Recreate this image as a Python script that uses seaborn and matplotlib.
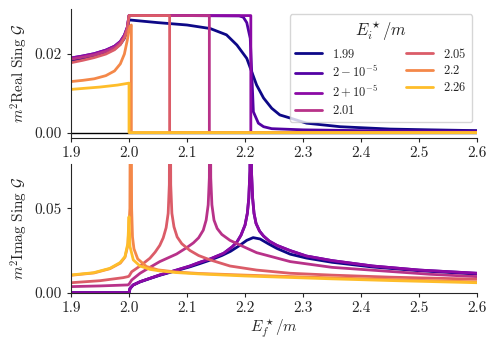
import numpy as np
import matplotlib
matplotlib.use("Agg")
import matplotlib.pyplot as plt
import seaborn as sns

# incoming energies (legend) and their labels
labels = ['$1.99$', r'$2-10^{-5}$', r'$2+10^{-5}$', '$2.01$', '$2.05$', '$2.2$', '$2.26$']

# --- Real part of Sing G ---
re_x_199 = [1.9, 1.92, 1.94, 1.96, 1.975, 1.985, 1.992, 1.997, 2.0, 2.05, 2.1, 2.14, 2.168, 2.186,
            2.203, 2.2115, 2.22, 2.232, 2.246, 2.26, 2.278, 2.306, 2.364, 2.45, 2.52, 2.6]
re_y_199 = [0.0183, 0.0188, 0.0194, 0.0203, 0.0213, 0.0225, 0.0240, 0.0260, 0.0287, 0.0280, 0.0274,
            0.0265, 0.0249, 0.0223, 0.0189, 0.0155, 0.0121, 0.0088, 0.0062, 0.0045, 0.0037, 0.0024,
            0.0015, 0.0009, 0.0007, 0.0005]

re_x_2m = [1.9, 1.92, 1.94, 1.96, 1.975, 1.985, 1.992, 1.997, 2.0, 2.1, 2.19, 2.197, 2.203, 2.209,
           2.2115, 2.2144, 2.223, 2.232, 2.246, 2.3, 2.4, 2.6]
re_y_2m = [0.0190, 0.0195, 0.0201, 0.0210, 0.0220, 0.0232, 0.0248, 0.0268, 0.0298, 0.0298, 0.0297,
           0.0294, 0.0280, 0.0240, 0.0155, 0.0053, 0.0024, 0.0015, 0.0010, 0.0007, 0.0005, 0.0004]

re_x_2p = [1.9, 1.92, 1.94, 1.96, 1.975, 1.985, 1.992, 1.997, 2.0, 2.21, 2.21, 2.6]
re_y_2p = [0.0190, 0.0195, 0.0201, 0.0210, 0.0220, 0.0232, 0.0248, 0.0268, 0.0298, 0.0298, 0.0, 0.0]

re_x_201 = [1.9, 1.92, 1.94, 1.96, 1.975, 1.985, 1.992, 1.997, 2.0, 2.1385, 2.1385, 2.6]
re_y_201 = [0.0187, 0.0192, 0.0198, 0.0207, 0.0217, 0.0229, 0.0245, 0.0266, 0.0298, 0.0298, 0.0, 0.0]

re_x_205 = [1.9, 1.92, 1.94, 1.96, 1.975, 1.985, 1.992, 1.997, 2.0, 2.07, 2.07, 2.6]
re_y_205 = [0.0178, 0.0184, 0.0191, 0.0200, 0.0211, 0.0224, 0.0241, 0.0262, 0.0298, 0.0298, 0.0, 0.0]

re_x_22 = [1.9, 1.92, 1.94, 1.96, 1.975, 1.985, 1.992, 1.997, 2.0, 2.002, 2.004, 2.004, 2.6]
re_y_22 = [0.0130, 0.0133, 0.0137, 0.0145, 0.0157, 0.0175, 0.0200, 0.0235, 0.0262, 0.0271, 0.0274, 0.0, 0.0]

re_x_226 = [1.9, 1.95, 1.98, 2.0, 2.0, 2.6]
re_y_226 = [0.0110, 0.0116, 0.0121, 0.0126, 0.0, 0.0]

# --- Imaginary part of Sing G ---
im_x_199 = [1.9, 2.0, 2.002, 2.007, 2.019, 2.036, 2.053, 2.082, 2.105, 2.122, 2.14, 2.16, 2.175, 2.19,
            2.203, 2.214, 2.226, 2.24, 2.255, 2.278, 2.306, 2.35, 2.42, 2.5, 2.6]
im_y_199 = [0.0, 0.0, 0.0025, 0.0045, 0.0064, 0.0084, 0.0103, 0.0131, 0.0153, 0.0172, 0.0193, 0.0220,
            0.0245, 0.0278, 0.0310, 0.0326, 0.0318, 0.0290, 0.0262, 0.0228, 0.0205, 0.0180, 0.0152,
            0.0130, 0.0110]

im_x_2pm = [1.9, 2.0, 2.0017, 2.0074, 2.019, 2.036, 2.053, 2.082, 2.105, 2.122, 2.14, 2.163, 2.178,
            2.186, 2.193, 2.2, 2.204, 2.2065, 2.2085, 2.2098, 2.2111, 2.2131, 2.2155, 2.219, 2.225,
            2.232, 2.242, 2.255, 2.278, 2.306, 2.35, 2.42, 2.5, 2.6]
im_y_2m = [0.0, 0.0, 0.0026, 0.0046, 0.0065, 0.0085, 0.0105, 0.0134, 0.0158, 0.0180, 0.0200, 0.0233,
           0.0272, 0.0300, 0.0340, 0.0400, 0.0470, 0.0560, 0.0720, 0.2000, 0.0720, 0.0560, 0.0470,
           0.0410, 0.0365, 0.0335, 0.0305, 0.0280, 0.0249, 0.0217, 0.0190, 0.0158, 0.0134, 0.0115]
im_y_2p = [0.0, 0.0, 0.0026, 0.0046, 0.0065, 0.0085, 0.0105, 0.0134, 0.0158, 0.0180, 0.0200, 0.0233,
           0.0272, 0.0300, 0.0340, 0.0400, 0.0470, 0.0560, 0.0720, 0.2000, 0.0720, 0.0560, 0.0470,
           0.0410, 0.0365, 0.0335, 0.0305, 0.0280, 0.0249, 0.0217, 0.0190, 0.0158, 0.0134, 0.0115]

im_x_201 = [1.9, 1.95, 1.998, 2.0, 2.0046, 2.019, 2.036, 2.053, 2.082, 2.1, 2.111, 2.12, 2.128, 2.133,
            2.1365, 2.1385, 2.1397, 2.1409, 2.1429, 2.1465, 2.152, 2.16, 2.174, 2.197, 2.22, 2.278,
            2.35, 2.433, 2.519, 2.6]
im_y_201 = [0.0036, 0.0040, 0.0046, 0.0050, 0.0075, 0.0115, 0.0150, 0.0184, 0.0229, 0.0268, 0.0295,
            0.0325, 0.0370, 0.0430, 0.0520, 0.0680, 0.2000, 0.0680, 0.0520, 0.0430, 0.0380, 0.0345,
            0.0310, 0.0273, 0.0237, 0.0184, 0.0150, 0.0130, 0.0109, 0.0095]

im_x_205 = [1.9, 1.95, 1.99, 1.998, 2.0, 2.0046, 2.019, 2.036, 2.045, 2.053, 2.059, 2.064, 2.0675,
            2.0695, 2.0707, 2.0719, 2.0739, 2.0775, 2.083, 2.091, 2.105, 2.12, 2.14, 2.174, 2.22,
            2.278, 2.35, 2.45, 2.6]
im_y_205 = [0.0059, 0.0071, 0.0089, 0.0095, 0.0098, 0.0124, 0.0158, 0.0204, 0.0240, 0.0280, 0.0325,
            0.0385, 0.0470, 0.0640, 0.2000, 0.0640, 0.0470, 0.0390, 0.0330, 0.0290, 0.0250, 0.0220,
            0.0194, 0.0158, 0.0134, 0.0115, 0.0104, 0.0092, 0.0080]

im_x_22 = [1.9, 1.94, 1.967, 1.985, 1.993, 1.998, 2.0015, 2.003, 2.0045, 2.006, 2.0085, 2.015, 2.03,
           2.05, 2.08, 2.12, 2.2, 2.35, 2.45, 2.6]
im_y_22 = [0.0103, 0.0117, 0.0142, 0.0175, 0.0210, 0.0280, 0.0500, 0.2000, 0.0500, 0.0330, 0.0260,
           0.0200, 0.0155, 0.0135, 0.0123, 0.0114, 0.0104, 0.0088, 0.0078, 0.0064]

im_x_226 = [1.9, 1.9385, 1.967, 1.9845, 1.993, 1.998, 2.0, 2.0017, 2.0074, 2.019, 2.036, 2.053, 2.082,
            2.122, 2.2, 2.35, 2.45, 2.6]
im_y_226 = [0.0105, 0.0118, 0.0144, 0.0178, 0.0213, 0.0293, 0.0450, 0.0273, 0.0194, 0.0158, 0.0138,
            0.0129, 0.0119, 0.0111, 0.0099, 0.0082, 0.0072, 0.0059]

real_curves = [(re_x_199, re_y_199), (re_x_2m, re_y_2m), (re_x_2p, re_y_2p), (re_x_201, re_y_201),
               (re_x_205, re_y_205), (re_x_22, re_y_22), (re_x_226, re_y_226)]
imag_curves = [(im_x_199, im_y_199), (im_x_2pm, im_y_2m), (im_x_2pm, im_y_2p), (im_x_201, im_y_201),
               (im_x_205, im_y_205), (im_x_22, im_y_22), (im_x_226, im_y_226)]

sns.set_style("ticks")
plt.rcParams['font.family'] = 'serif'
plt.rcParams['font.serif'] = ['cmr10']
plt.rcParams['mathtext.fontset'] = 'cm'
plt.rcParams['axes.formatter.use_mathtext'] = True
plt.rcParams['axes.unicode_minus'] = False

cmap = sns.color_palette("plasma", as_cmap=True)
colors = [cmap(v) for v in np.linspace(0, 1, 8)[:7]]

fig = plt.figure(figsize=(4.98, 3.52), dpi=100)
ax1 = fig.add_axes([0.1426, 0.6088, 0.8153, 0.3648])
ax2 = fig.add_axes([0.1426, 0.1685, 0.8153, 0.3656])

ax1.axhline(0, color='black', lw=1.0, zorder=1)
for (x, y), c, lab in zip(real_curves, colors, labels):
    sns.lineplot(x=x, y=y, ax=ax1, color=c, lw=2, label=lab, sort=False, estimator=None)
for (x, y), c in zip(imag_curves, colors):
    sns.lineplot(x=x, y=y, ax=ax2, color=c, lw=2, legend=False, sort=False, estimator=None)

ax1.set_xlim(1.9, 2.6)
ax1.set_ylim(-0.0013, 0.0314)
ax1.set_yticks([0.0, 0.02])
ax1.yaxis.set_major_formatter(plt.FormatStrFormatter('%.2f'))
ax1.set_ylabel(r'$m^2\mathrm{Real\ Sing}\ \mathcal{G}$', fontsize=11, labelpad=3)

ax2.set_xlim(1.9, 2.6)
ax2.set_ylim(0, 0.0762)
ax2.set_yticks([0.0, 0.05])
ax2.yaxis.set_major_formatter(plt.FormatStrFormatter('%.2f'))
ax2.set_ylabel(r'$m^2\mathrm{Imag\ Sing}\ \mathcal{G}$', fontsize=11, labelpad=3)
ax2.set_xlabel(r'$E_f^\star/m$', fontsize=11, labelpad=2)

for ax in (ax1, ax2):
    ax.set_xticks([1.9, 2.0, 2.1, 2.2, 2.3, 2.4, 2.5, 2.6])
    ax.xaxis.set_major_formatter(plt.FormatStrFormatter('%.1f'))
    ax.tick_params(labelsize=11, length=3, width=0.8)
    for s in ('left', 'bottom'):
        ax.spines[s].set_linewidth(0.8)
    sns.despine(ax=ax)

ax1.legend(title=r'$E_i^\star/m$', ncol=2, loc='upper right', fontsize=9, title_fontsize=12,
           labelspacing=0.3, columnspacing=2.2, handlelength=2.2, borderaxespad=0.4)

plt.savefig('out.png', dpi=100)
